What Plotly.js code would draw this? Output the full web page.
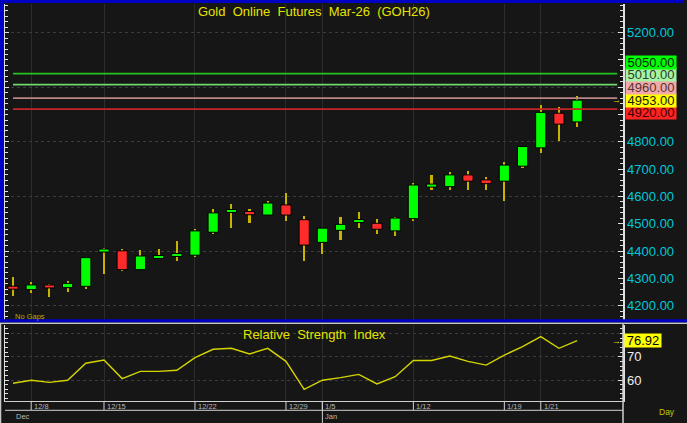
<!DOCTYPE html>
<html>
<head>
<meta charset="utf-8">
<script src="https://cdn.plot.ly/plotly-3.0.1.min.js"></script>
<style>html,body{margin:0;padding:0;background:#161616;}#chart{width:687px;height:423px;}</style>
</head>
<body>
<div id="chart"></div>
<script>
// ---- data ----
const barIndex = [0,1,2,3,4,5,6,7,8,9,10,11,12,13,14,15,16,17,18,19,20,21,22,23,24,25,26,27,28,29,30,31];
const openP  = [4270,4259,4274,4266,4271,4400,4401,4332,4376,4383,4385,4469,4543,4545,4532,4569,4515,4432,4476,4505,4502,4474,4519,4637,4636,4679,4661,4656,4711,4778,4905,4873];
const highP  = [4305,4286,4280,4289,4380,4411,4407,4403,4409,4437,4480,4555,4572,4555,4584,4613,4529,4485,4525,4543,4519,4525,4650,4679,4689,4692,4670,4725,4785,4934,4927,4968];
const lowP   = [4236,4248,4232,4251,4262,4315,4328,4332,4371,4364,4380,4462,4486,4504,4532,4509,4365,4390,4442,4486,4463,4455,4509,4623,4625,4625,4625,4583,4705,4760,4802,4853];
const closeP = [4262,4276,4267,4282,4376,4404,4332,4382,4381,4388,4474,4540,4551,4533,4576,4532,4422,4484,4498,4515,4480,4521,4642,4643,4679,4656,4647,4715,4783,4908,4865,4953];
const rsi    = [58.6,59.9,59.0,59.9,67.2,68.6,60.6,63.7,63.7,64.2,69.6,73.2,73.6,71.2,73.6,68.0,56.0,59.9,61.0,62.4,58.3,61.4,68.4,68.4,70.3,68.0,66.4,70.7,74.3,78.6,73.6,76.92];
const dateTickIdx    = [1,5,10,15,17,22,27,29];
const dateTickLabels = ['12/8','12/15','12/22','12/29','1/5','1/12','1/19','1/21'];
const monthIdx    = [0,17];
const monthLabels = ['Dec','Jan'];
const levelValues = [5050,5010,4960,4920];
const levelLineColors = ['#22c422','#6fd86f','#b98686','#c42626'];
const levelBoxColors  = ['#00ff00','#a4f4a4','#f4a8a8','#ff2424'];
const levelTextColors = ['#102010','#2a402a','#503838','#400000'];
const priceTicks = [4200,4300,4400,4500,4600,4700,4800,4900,5000,5100,5200];
const hiddenPriceTicks = [4900,5000,5100];
const rsiTicks = [60,70];
const lastPrice = closeP[closeP.length-1];
const lastRsi = rsi[rsi.length-1];

// ---- styles ----
const FONT = 'Liberation Sans, Arial, sans-serif';
const GREEN = '#00ff00', RED = '#ff2b2b', WICK = '#c8b400';
const AXC = '#e0e0e0';
const PRANGE = [4147.6, 5305];
const RRANGE = [50.99, 83.6];
const MAIN_DOM = [0.204, 1];
const RSI_DOM = [0, 0.1914];
const PLOT_H = 397, PLOT_W = 618;
const MIN_BODY = 11; // minimum drawn body height (price units) so doji bodies stay visible

// bar geometry derived from OHLC
const wickY = highP.map((h,i)=>h-lowP[i]);
const upX=[],upB=[],upH=[],dnX=[],dnB=[],dnH=[];
barIndex.forEach((x,i)=>{
  const lo = Math.min(openP[i],closeP[i]), hi = Math.max(openP[i],closeP[i]);
  const h = Math.max(hi-lo, MIN_BODY);
  const b = (lo+hi)/2 - h/2;
  if(closeP[i]>=openP[i]){upX.push(x);upB.push(b);upH.push(h);}
  else{dnX.push(x);dnB.push(b);dnH.push(h);}
});

const traces = [
  {type:'bar',x:barIndex,base:lowP,y:wickY,width:0.12,marker:{color:WICK,line:{width:0}},xaxis:'x',yaxis:'y',hoverinfo:'skip'},
  {type:'bar',x:upX,base:upB,y:upH,width:0.56,marker:{color:GREEN,line:{color:'#000',width:1}},xaxis:'x',yaxis:'y',hoverinfo:'skip'},
  {type:'bar',x:dnX,base:dnB,y:dnH,width:0.56,marker:{color:RED,line:{color:'#000',width:1}},xaxis:'x',yaxis:'y',hoverinfo:'skip'},
  {type:'scatter',mode:'lines',x:barIndex,y:rsi,line:{color:'#d4d400',width:1.4},xaxis:'x',yaxis:'y2',hoverinfo:'skip'},
  {type:'scatter',mode:'lines',x:[],y:[],xaxis:'x',yaxis:'y3'},
  {type:'scatter',mode:'lines',x:[],y:[],xaxis:'x',yaxis:'y4'}
];

// label stacking (declutter) around last price
const pxPerUnit = PLOT_H*(MAIN_DOM[1]-MAIN_DOM[0])/(PRANGE[1]-PRANGE[0]);
const gap = 12.7/pxPerUnit;
const labels = levelValues.map((v,i)=>({v,bg:levelBoxColors[i],fc:levelTextColors[i]}));
labels.push({v:lastPrice,bg:'#ffff00',fc:'#202000',anchor:true});
labels.sort((a,b)=>a.v-b.v);
const ai = labels.findIndex(l=>l.anchor);
labels[ai].pos = labels[ai].v;
for(let i=ai+1;i<labels.length;i++) labels[i].pos = Math.max(labels[i].v, labels[i-1].pos+gap);
for(let i=ai-1;i>=0;i--) labels[i].pos = Math.min(labels[i].v, labels[i+1].pos-gap);

const py = p => (401-p)/PLOT_H;      // pixel row -> paper y
const px = p => (p-5)/PLOT_W;        // pixel col -> paper x

const annotations = [];
labels.forEach(l=>{
  annotations.push({xref:'paper',x:1,xanchor:'left',xshift:2,yref:'y',y:l.pos,yanchor:'middle',
    text:l.v.toFixed(2),showarrow:false,bgcolor:l.bg,width:50,height:12.7,borderpad:0,
    font:{family:FONT,size:13,color:l.fc}});
});
annotations.push({xref:'paper',x:px(616),xanchor:'center',yref:'y',y:lastPrice,yanchor:'middle',text:'→',showarrow:false,font:{family:FONT,size:9,color:'#d8d800'}});
annotations.push({xref:'paper',x:1,xanchor:'left',xshift:1,yref:'y2',y:lastRsi,yanchor:'middle',text:lastRsi.toFixed(2),
  showarrow:false,bgcolor:'#ffff00',width:36,height:13,borderpad:0,font:{family:FONT,size:13,color:'#000'}});
annotations.push({xref:'paper',x:px(616),xanchor:'center',yref:'y2',y:lastRsi,yanchor:'middle',text:'→',showarrow:false,font:{family:FONT,size:9,color:'#d8d800'}});
annotations.push({xref:'paper',x:0.5,xanchor:'center',yref:'paper',y:py(12),yanchor:'middle',text:'Gold\u00a0 Online\u00a0 Futures\u00a0 Mar-26\u00a0 (GOH26)',showarrow:false,
  font:{family:FONT,size:13,color:'#e4e400'}});
annotations.push({xref:'paper',x:0.5,xanchor:'center',yref:'paper',y:py(334.5),yanchor:'middle',text:'Relative\u00a0 Strength\u00a0 Index',showarrow:false,
  font:{family:FONT,size:13,color:'#e4e400'}});
annotations.push({xref:'x',x:0,xanchor:'left',yref:'paper',y:py(316),yanchor:'middle',text:'No Gaps',showarrow:false,
  font:{family:FONT,size:7.5,color:'#b0b000'}});
annotations.push({xref:'paper',x:px(667),xanchor:'center',yref:'paper',y:py(411.5),yanchor:'middle',text:'Day',showarrow:false,
  font:{family:FONT,size:8.5,color:'#c4c400'}});
dateTickIdx.forEach((d,i)=>annotations.push({xref:'x',x:d,xanchor:'left',xshift:1,yref:'paper',y:py(406.3),yanchor:'middle',
  text:dateTickLabels[i],showarrow:false,font:{family:FONT,size:7.5,color:'#b8b8b8'}}));
monthIdx.forEach((d,i)=>annotations.push({xref:'x',x:d,xanchor:'left',xshift:1,yref:'paper',y:py(416.3),yanchor:'middle',
  text:monthLabels[i],showarrow:false,font:{family:FONT,size:7.5,color:'#b8b8b8'}}));

const shapes = [];
levelValues.forEach((v,i)=>shapes.push({type:'line',xref:'x',yref:'y',x0:0,x1:33.2,y0:v,y1:v,line:{color:levelLineColors[i],width:1.8}}));
dateTickIdx.forEach(d=>shapes.push({type:'line',xref:'x',yref:'paper',x0:d,x1:d,y0:0,y1:py(410),line:{color:'#d0d0d0',width:1}}));
shapes.push({type:'line',xref:'x',yref:'paper',x0:monthIdx[1],x1:monthIdx[1],y0:0,y1:py(424),line:{color:'#d0d0d0',width:1}});
shapes.push({type:'line',xref:'paper',yref:'paper',x0:0,x1:1,y0:py(410.3),y1:py(410.3),line:{color:'#d0d0d0',width:1}});
shapes.push({type:'line',xref:'paper',yref:'paper',x0:1,x1:1,y0:py(323),y1:py(424),line:{color:'#d0d0d0',width:1.5}});
shapes.push({type:'line',xref:'paper',yref:'paper',x0:px(0.5),x1:px(0.5),y0:py(323),y1:py(424),line:{color:'#c8c8c8',width:1.5}});
shapes.push({type:'line',xref:'paper',yref:'paper',x0:px(0),x1:px(687),y0:py(323.2),y1:py(323.2),line:{color:'#c8c8c8',width:1.6}});
// blue frame of the price pane (top, left, bottom)
shapes.push({type:'line',xref:'paper',yref:'paper',x0:px(0),x1:px(683),y0:py(1.5),y1:py(1.5),line:{color:'#0000c4',width:3}});
shapes.push({type:'line',xref:'paper',yref:'paper',x0:px(1.5),x1:px(1.5),y0:py(0),y1:py(322),line:{color:'#0000c4',width:3}});
shapes.push({type:'line',xref:'paper',yref:'paper',x0:px(0),x1:px(687),y0:py(320.8),y1:py(320.8),line:{color:'#0000c4',width:3}});

const layout = {
  width:687,height:423,
  margin:{l:5,r:64,t:4,b:22,pad:0},
  paper_bgcolor:'#161616',plot_bgcolor:'#161616',
  showlegend:false,hovermode:false,barmode:'overlay',bargap:0,
  font:{family:FONT,color:'#ffffff'},
  xaxis:{domain:[0,1],anchor:'y2',range:[-0.44,33.52],tickmode:'array',tickvals:dateTickIdx,showticklabels:false,ticks:'',
    showgrid:true,gridcolor:'#2c2c2c',gridwidth:1,zeroline:false,showline:true,linecolor:'#d0d0d0',linewidth:1,fixedrange:true},
  yaxis:{domain:MAIN_DOM,anchor:'x',side:'right',range:PRANGE,tickmode:'array',tickvals:priceTicks,
    ticktext:priceTicks.map(v=>hiddenPriceTicks.includes(v)?'':v.toFixed(2)),
    tickfont:{family:FONT,size:13,color:'#00c8dc'},ticks:'inside',ticklen:5,tickcolor:AXC,tickwidth:1,
    minor:{tickmode:'linear',tick0:4200,dtick:20,ticks:'inside',ticklen:3,tickcolor:AXC,showgrid:false},
    showgrid:false,zeroline:false,showline:true,linecolor:AXC,linewidth:1.5,fixedrange:true},
  yaxis3:{overlaying:'y',anchor:'x',side:'left',range:PRANGE,tickmode:'linear',tick0:4200,dtick:200,showticklabels:false,
    ticks:'inside',ticklen:4,tickcolor:AXC,
    minor:{tickmode:'linear',tick0:4200,dtick:20,ticks:'inside',ticklen:3,tickcolor:AXC,showgrid:false},
    showgrid:true,gridcolor:'#3c3c3c',griddash:'dot',gridwidth:1,zeroline:false,showline:true,linecolor:AXC,linewidth:1.5,fixedrange:true},
  yaxis2:{domain:RSI_DOM,anchor:'x',side:'right',range:RRANGE,tickmode:'array',tickvals:rsiTicks,
    tickfont:{family:FONT,size:13,color:'#eeeeee'},ticks:'inside',ticklen:5,tickcolor:AXC,
    minor:{tickmode:'linear',tick0:50,dtick:2,ticks:'inside',ticklen:3,tickcolor:AXC,showgrid:false},
    showgrid:false,zeroline:false,showline:true,linecolor:AXC,linewidth:1.5,fixedrange:true},
  yaxis4:{overlaying:'y2',anchor:'x',side:'left',range:RRANGE,tickmode:'linear',tick0:60,dtick:10,showticklabels:false,
    ticks:'inside',ticklen:4,tickcolor:AXC,
    minor:{tickmode:'linear',tick0:50,dtick:2,ticks:'inside',ticklen:3,tickcolor:AXC,showgrid:false},
    showgrid:true,gridcolor:'#3c3c3c',griddash:'dot',gridwidth:1,zeroline:false,showline:true,linecolor:AXC,linewidth:1.5,fixedrange:true},
  annotations:annotations,
  shapes:shapes
};
Plotly.newPlot('chart',traces,layout,{displayModeBar:false,staticPlot:true});
</script>
</body>
</html>
